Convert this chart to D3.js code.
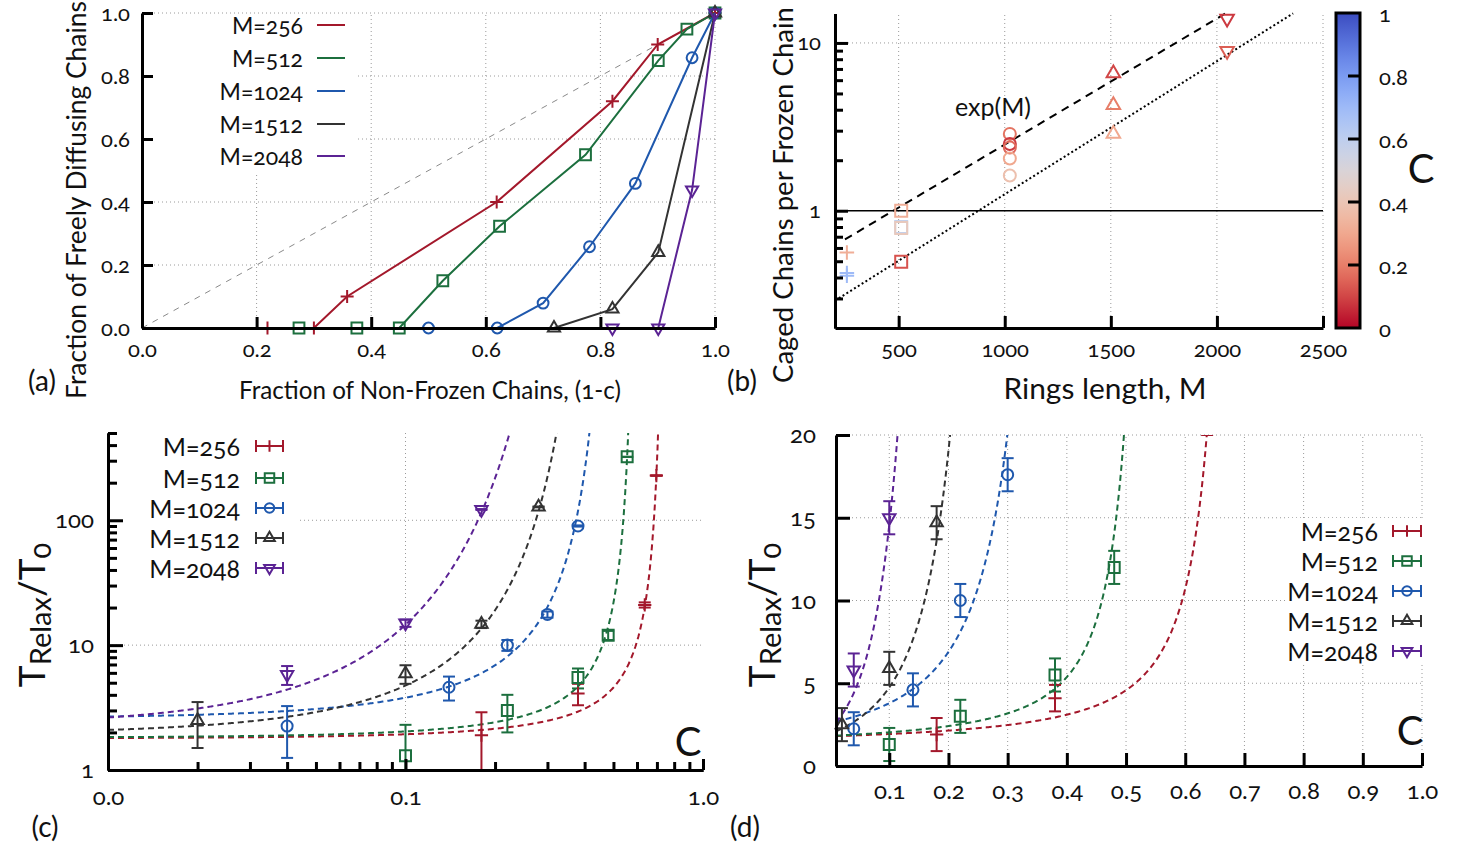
<!DOCTYPE html>
<html>
<head>
<meta charset="utf-8">
<script src="https://cdn.jsdelivr.net/npm/d3@7"></script>
<style>
  body { margin: 0; background: #fff; }
  svg text { font-family: Lato, "Open Sans", sans-serif; font-variant-numeric: oldstyle-nums; fill: #111; }
  .grid { stroke: #9a9a9a; stroke-width: 1; stroke-dasharray: 1,3; }
</style>
</head>
<body>
<svg id="fig" width="1467" height="850"></svg>
<script>
// ---- data ----
const seriesNames = ["M=256", "M=512", "M=1024", "M=1512", "M=2048"];
const seriesColors = ["#a3182b", "#1c6f3e", "#1f58ad", "#333333", "#5b2394"];

// (a) fraction of non-frozen chains (1-c) vs fraction of freely diffusing chains
const aNonFrozen = [
  [0.219, 0.300, 0.358, 0.619, 0.821, 0.900, 1.0],
  [0.274, 0.375, 0.449, 0.525, 0.624, 0.774, 0.901, 0.951, 1.0],
  [0.500, 0.620, 0.700, 0.781, 0.861, 0.960, 1.0],
  [0.719, 0.821, 0.901, 1.0],
  [0.821, 0.901, 0.960, 1.0]
];
const aFree = [
  [0, 0, 0.10, 0.40, 0.72, 0.90, 1.0],
  [0, 0, 0, 0.15, 0.323, 0.55, 0.849, 0.949, 1.0],
  [0, 0, 0.079, 0.258, 0.459, 0.858, 1.0],
  [0, 0.06, 0.24, 1.0],
  [0, 0, 0.438, 1.0]
];
const aTicks = [0, 0.2, 0.4, 0.6, 0.8, 1.0];

// (b) caged chains per frozen chain vs ring length, colour = c
const bRing  = [256, 256, 256, 512, 512, 512, 512, 1024, 1024, 1024, 1024, 1024, 1512, 1512, 1512, 2048, 2048];
const bCaged = [0.563, 0.425, 0.41, 1.0, 0.80, 0.79, 0.497, 2.87, 2.5, 2.38, 2.05, 1.62, 6.6, 4.26, 2.87, 13.95, 8.96];
const bConc  = [0.32, 0.7, 0.7, 0.32, 0.58, 0.42, 0.12, 0.18, 0.08, 0.16, 0.3, 0.38, 0.1, 0.2, 0.3, 0.08, 0.14];
const bRingValues = [256, 512, 1024, 1512, 2048];
const bXTicks = [500, 1000, 1500, 2000, 2500];
// exponential guide lines: y = pref * 10^(slope*M)
const bGuidePref  = [0.44, 0.202];
const bGuideSlope = [7.51e-4, 7.93e-4];
const bGuideStart = [247, 200];
const bGuideDash  = ["8,6", "2,2.5"];
const cbarTicks = [0, 0.2, 0.4, 0.6, 0.8, 1];

// (c),(d) relaxation time vs c
const tauC = [
  [0.18, 0.38, 0.637, 0.697],
  [0.10, 0.22, 0.38, 0.48, 0.556],
  [0.04, 0.14, 0.22, 0.30, 0.38],
  [0.02, 0.10, 0.18, 0.28],
  [0.04, 0.10, 0.18]
];
const tauVal = [
  [1.9, 4.1, 21, 228],
  [1.3, 3.0, 5.5, 12, 322],
  [2.25, 4.6, 10, 17.6, 90],
  [2.5, 5.9, 14.7, 128],
  [5.8, 15, 122]
];
const tauErr = [
  [1, 0.8, 1, 1],
  [1, 1, 1, 1, 1],
  [1, 1, 1, 1, 1],
  [1, 1, 1, 1],
  [1, 1, 1]
];
// fits: T = A * exp(B / (cs - c))
const fitA  = [1.08, 1.0, 0.47, 0.032, 7.6e-5];
const fitB  = [0.39, 0.37, 0.94, 2.3, 6.69];
const fitCs = [0.77, 0.62, 0.55, 0.56, 0.65];
const dXTicks = [0.1, 0.2, 0.3, 0.4, 0.5, 0.6, 0.7, 0.8, 0.9, 1.0];
const dYTicks = [0, 5, 10, 15, 20];

const svg = d3.select("#fig");
const defs = svg.append("defs");

// ---- helpers ----
function symbolPath(i, k) {
  const types = [d3.symbolPlus, d3.symbolSquare2, d3.symbolCircle, d3.symbolTriangle2, d3.symbolTriangle2];
  const sizes = [49, 127, 79, 91, 91];
  return d3.symbol().type(types[i]).size(sizes[i] * k * k)();
}
function addMarker(g, i, x, y, color, k) {
  g.append("path")
    .attr("d", symbolPath(i, k))
    .attr("transform", "translate(" + x + "," + y + ")" + (i === 4 ? " rotate(180)" : ""))
    .attr("fill", "none")
    .attr("stroke", color)
    .attr("stroke-width", 2);
}
function styleAxis(g, fs) {
  g.attr("font-family", null).attr("font-size", fs);
  g.select(".domain").attr("stroke-width", 3).attr("stroke", "#000");
  g.selectAll(".tick line").attr("stroke-width", 3).attr("stroke", "#000");
  g.selectAll(".tick text").attr("fill", "#111");
}
function fitWidth(t, w) {
  const len = t.node().getComputedTextLength();
  const fs = parseFloat(t.attr("font-size"));
  t.attr("font-size", (fs * w) / len);
}
function label(x, y, txt, fs, w, rot) {
  const t = svg.append("text")
    .attr("transform", "translate(" + x + "," + y + ")" + (rot ? " rotate(-90)" : ""))
    .attr("text-anchor", "middle")
    .attr("dominant-baseline", "central")
    .attr("font-size", fs)
    .text(txt);
  if (w) fitWidth(t, w);
  return t;
}
function clip(id, x0, y0, x1, y1) {
  defs.append("clipPath").attr("id", id)
    .append("rect").attr("x", x0).attr("y", y0).attr("width", x1 - x0).attr("height", y1 - y0);
  return "url(#" + id + ")";
}

// ================= (a) =================
const xa = d3.scaleLinear().domain([0, 1]).range([142, 715]);
const ya = d3.scaleLinear().domain([0, 1]).range([328, 13]);
const ga = svg.append("g");
aTicks.slice(1).forEach(function (v) {
  ga.append("line").attr("class", "grid")
    .attr("x1", xa(v)).attr("x2", xa(v)).attr("y1", ya(0)).attr("y2", ya(1));
  ga.append("line").attr("class", "grid")
    .attr("x1", xa(0)).attr("x2", xa(1)).attr("y1", ya(v)).attr("y2", ya(v));
});
ga.append("line")
  .attr("x1", xa(0)).attr("y1", ya(0)).attr("x2", xa(1)).attr("y2", ya(1))
  .attr("stroke", "#8a8a8a").attr("stroke-width", 1).attr("stroke-dasharray", "6,6");
ga.append("rect").attr("x", 144).attr("y", 14).attr("width", 213).attr("height", 159).attr("fill", "#fff");

const lineA = d3.line().x(function (d) { return xa(d[0]); }).y(function (d) { return ya(d[1]); });
seriesNames.forEach(function (name, i) {
  const pts = d3.zip(aNonFrozen[i], aFree[i]);
  ga.append("path").attr("d", lineA(pts)).attr("fill", "none")
    .attr("stroke", seriesColors[i]).attr("stroke-width", 2);
  pts.forEach(function (p) { addMarker(ga, i, xa(p[0]), ya(p[1]), seriesColors[i], 1.08); });
});
// legend
const aLegY = [25, 58, 91, 124, 156];
seriesNames.forEach(function (name, i) {
  ga.append("text").attr("x", 303).attr("y", aLegY[i]).attr("text-anchor", "end")
    .attr("dominant-baseline", "central").attr("font-size", 23).text(name);
  ga.append("line").attr("x1", 317).attr("x2", 345).attr("y1", aLegY[i]).attr("y2", aLegY[i])
    .attr("stroke", seriesColors[i]).attr("stroke-width", 2);
});
styleAxis(ga.append("g").attr("transform", "translate(0,328)")
  .call(d3.axisBottom(xa).tickValues(aTicks).tickFormat(d3.format(".1f")).tickSize(-11).tickPadding(13).tickSizeOuter(0)), 22);
styleAxis(ga.append("g").attr("transform", "translate(142,0)")
  .call(d3.axisLeft(ya).tickValues(aTicks).tickFormat(d3.format(".1f")).tickSize(-11).tickPadding(12).tickSizeOuter(0)), 22);
label(430, 389, "Fraction of Non-Frozen Chains, (1-c)", 22, 382);
label(76, 200, "Fraction of Freely Diffusing Chains", 24, 398, true);
label(42, 380, "(a)", 28);

// ================= (b) =================
const xb = d3.scaleLinear().domain([200, 2500]).range([835, 1323]);
const yb = d3.scaleLog().domain([0.2, 15]).range([328, 13.4]);
const cmap = d3.interpolateRgbBasis(["#b40426", "#e7745b", "#f7b89c", "#dddcdc", "#aac7fd", "#6f92f3", "#3b4cc0"]);
const gb = svg.append("g");
bXTicks.forEach(function (v) {
  gb.append("line").attr("class", "grid").attr("x1", xb(v)).attr("x2", xb(v)).attr("y1", yb(0.2)).attr("y2", yb(15));
});
gb.append("line").attr("class", "grid").attr("x1", 848).attr("x2", xb(2500)).attr("y1", yb(10)).attr("y2", yb(10));
gb.append("line").attr("stroke", "#000").attr("stroke-width", 1.5)
  .attr("x1", xb(200)).attr("x2", xb(2500)).attr("y1", yb(1)).attr("y2", yb(1));
const lineB = d3.line().x(function (d) { return xb(d[0]); }).y(function (d) { return yb(d[1]); });
bGuidePref.forEach(function (p, j) {
  const mEnd = (Math.log10(15) - Math.log10(p)) / bGuideSlope[j];
  const ends = [bGuideStart[j], mEnd].map(function (m) { return [m, p * Math.pow(10, bGuideSlope[j] * m)]; });
  gb.append("path").attr("d", lineB(ends)).attr("fill", "none").attr("stroke", "#000")
    .attr("stroke-width", 2).attr("stroke-dasharray", bGuideDash[j]);
});
bRing.forEach(function (m, k) {
  addMarker(gb, bRingValues.indexOf(m), xb(m), yb(bCaged[k]), cmap(bConc[k]), 1.2);
});
gb.append("text").attr("x", 993).attr("y", 106).attr("text-anchor", "middle")
  .attr("dominant-baseline", "central").attr("font-size", 25).text("exp(M)");
styleAxis(gb.append("g").attr("transform", "translate(0,328)")
  .call(d3.axisBottom(xb).tickValues(bXTicks).tickFormat(d3.format("d")).tickSize(-12).tickPadding(13).tickSizeOuter(0)), 22);
styleAxis(gb.append("g").attr("transform", "translate(835,0)")
  .call(d3.axisLeft(yb).tickValues([0.3, 0.4, 0.5, 0.6, 0.7, 0.8, 0.9, 2, 3, 4, 5, 6, 7, 8, 9]).tickFormat("").tickSize(-8).tickSizeOuter(0)), 22);
styleAxis(gb.append("g").attr("transform", "translate(835,0)")
  .call(d3.axisLeft(yb).tickValues([1, 10]).tickFormat(d3.format("d")).tickSize(-13).tickPadding(14).tickSizeOuter(0)), 22);
label(782, 195, "Caged Chains per Frozen Chain", 25, 376, true);
label(1105, 387, "Rings length, M", 26, 203);
label(742, 380, "(b)", 28);

// colour bar
const yCbar = d3.scaleLinear().domain([0, 1]).range([328, 13]);
const grad = defs.append("linearGradient").attr("id", "cbar")
  .attr("x1", 0).attr("x2", 0).attr("y1", 1).attr("y2", 0);
d3.range(0, 1.0001, 0.05).forEach(function (v) {
  grad.append("stop").attr("offset", v).attr("stop-color", cmap(v));
});
svg.append("rect").attr("x", 1336).attr("y", 13).attr("width", 24).attr("height", 315)
  .attr("fill", "url(#cbar)").attr("stroke", "#000").attr("stroke-width", 3);
cbarTicks.forEach(function (v) {
  if (v > 0 && v < 1) {
    svg.append("line").attr("x1", 1348).attr("x2", 1360).attr("y1", yCbar(v)).attr("y2", yCbar(v))
      .attr("stroke", "#000").attr("stroke-width", 3);
  }
  svg.append("text").attr("x", 1379).attr("y", yCbar(v)).attr("dominant-baseline", "central")
    .attr("font-size", 22).text(v === 0 || v === 1 ? String(v) : d3.format(".1f")(v));
});
label(1421, 168, "C", 40);

// ================= (c) & (d) shared =================
function tauLabel(x, y) {
  const t = svg.append("text")
    .attr("transform", "translate(" + x + "," + y + ") rotate(-90)")
    .attr("text-anchor", "middle")
    .attr("dominant-baseline", "central");
  t.append("tspan").attr("font-size", 37).text("T");
  t.append("tspan").attr("font-size", 29).attr("dy", 9).text("Relax");
  t.append("tspan").attr("font-size", 37).attr("dy", -9).text("/T");
  t.append("tspan").attr("font-size", 29).attr("dy", 9).text("0");
}
function drawTau(g, xs, ys, tMax, clipId, capW) {
  const clipUrl = clip(clipId, xs.range()[0], ys.range()[1], xs.range()[1], ys.range()[0]);
  const curves = g.append("g").attr("clip-path", clipUrl);
  const bars = g.append("g").attr("clip-path", clipUrl);
  const line = d3.line().x(function (d) { return xs(d[0]); }).y(function (d) { return ys(d[1]); });
  seriesNames.forEach(function (name, i) {
    const cEnd = fitCs[i] - fitB[i] / Math.log(tMax / fitA[i]);
    const px0 = xs(xs.domain()[0]), px1 = xs(cEnd);
    const pts = d3.range(0, 401).map(function (k) {
      const c = xs.invert(px0 + (px1 - px0) * k / 400);
      return [c, fitA[i] * Math.exp(fitB[i] / (fitCs[i] - c))];
    });
    curves.append("path").attr("d", line(pts)).attr("fill", "none")
      .attr("stroke", seriesColors[i]).attr("stroke-width", 2).attr("stroke-dasharray", "6,4");
  });
  seriesNames.forEach(function (name, i) {
    tauC[i].forEach(function (c, k) {
      const v = tauVal[i][k], e = tauErr[i][k];
      const lo = Math.max(v - e, ys.domain()[0] * 0.5), hi = v + e;
      const x = xs(c);
      bars.append("line").attr("x1", x).attr("x2", x).attr("y1", ys(lo)).attr("y2", ys(hi))
        .attr("stroke", seriesColors[i]).attr("stroke-width", 2);
      [lo, hi].forEach(function (b) {
        bars.append("line").attr("x1", x - capW).attr("x2", x + capW).attr("y1", ys(b)).attr("y2", ys(b))
          .attr("stroke", seriesColors[i]).attr("stroke-width", 2);
      });
      if (v <= ys.domain()[1]) addMarker(g, i, x, ys(v), seriesColors[i], 1.1);
    });
  });
}
function tauLegend(g, textX, x0, x1, rows) {
  seriesNames.forEach(function (name, i) {
    const y = rows[i];
    g.append("text").attr("x", textX).attr("y", y).attr("text-anchor", "end")
      .attr("dominant-baseline", "central").attr("font-size", 25).text(name);
    g.append("line").attr("x1", x0).attr("x2", x1).attr("y1", y).attr("y2", y)
      .attr("stroke", seriesColors[i]).attr("stroke-width", 2);
    [x0, x1].forEach(function (x) {
      g.append("line").attr("x1", x).attr("x2", x).attr("y1", y - 6).attr("y2", y + 6)
        .attr("stroke", seriesColors[i]).attr("stroke-width", 2);
    });
    addMarker(g, i, (x0 + x1) / 2, y, seriesColors[i], 0.95);
  });
}

// ================= (c) =================
const xc = d3.scaleLog().domain([0.01, 1]).range([108, 703]);
const yc = d3.scaleLog().domain([1, 500]).range([770, 433]);
const gc = svg.append("g");
gc.append("line").attr("class", "grid").attr("x1", xc(0.1)).attr("x2", xc(0.1)).attr("y1", yc(1)).attr("y2", yc(500));
gc.append("line").attr("class", "grid").attr("x1", xc(0.01)).attr("x2", xc(1)).attr("y1", yc(10)).attr("y2", yc(10));
gc.append("line").attr("class", "grid").attr("x1", xc(0.01)).attr("x2", xc(1)).attr("y1", yc(100)).attr("y2", yc(100));
gc.append("rect").attr("x", 112).attr("y", 434).attr("width", 186).attr("height", 155).attr("fill", "#fff");
drawTau(gc, xc, yc, 800, "clipC", 6);
tauLegend(gc, 240, 256, 283, [446, 478, 508, 538, 568]);
const cMinorX = [0.02, 0.03, 0.04, 0.05, 0.06, 0.07, 0.08, 0.09, 0.2, 0.3, 0.4, 0.5, 0.6, 0.7, 0.8, 0.9];
const cMinorY = [2, 3, 4, 5, 6, 7, 8, 9, 20, 30, 40, 50, 60, 70, 80, 90, 200, 300, 400, 500];
styleAxis(gc.append("g").attr("transform", "translate(0,770)")
  .call(d3.axisBottom(xc).tickValues(cMinorX).tickFormat("").tickSize(-8).tickSizeOuter(0)), 24);
styleAxis(gc.append("g").attr("transform", "translate(0,770)")
  .call(d3.axisBottom(xc).tickValues([0.01, 0.1, 1]).tickFormat(d3.format(".1f")).tickSize(-11).tickPadding(18).tickSizeOuter(0)), 24);
styleAxis(gc.append("g").attr("transform", "translate(108,0)")
  .call(d3.axisLeft(yc).tickValues(cMinorY).tickFormat("").tickSize(-9).tickSizeOuter(0)), 24);
styleAxis(gc.append("g").attr("transform", "translate(108,0)")
  .call(d3.axisLeft(yc).tickValues([1, 10, 100]).tickFormat(d3.format("d")).tickSize(-15).tickPadding(14).tickSizeOuter(0)), 24);
gc.append("text").attr("x", 688).attr("y", 741).attr("text-anchor", "middle")
  .attr("dominant-baseline", "central").attr("font-size", 40).text("C");
tauLabel(30, 615);
label(45, 826, "(c)", 28);

// ================= (d) =================
const xd = d3.scaleLinear().domain([0.01, 1]).range([836, 1422]);
const yd = d3.scaleLinear().domain([0, 20]).range([766, 435]);
const gd = svg.append("g");
dXTicks.forEach(function (v) {
  gd.append("line").attr("class", "grid").attr("x1", xd(v)).attr("x2", xd(v)).attr("y1", yd(0)).attr("y2", yd(20));
});
dYTicks.slice(1).forEach(function (v) {
  gd.append("line").attr("class", "grid").attr("x1", xd(0.01)).attr("x2", xd(1)).attr("y1", yd(v)).attr("y2", yd(v));
});
gd.append("rect").attr("x", 1287).attr("y", 518).attr("width", 140).attr("height", 147).attr("fill", "#fff");
drawTau(gd, xd, yd, 40, "clipD", 6);
tauLegend(gd, 1378, 1393, 1421, [531, 561, 591, 621, 651]);
styleAxis(gd.append("g").attr("transform", "translate(0,766)")
  .call(d3.axisBottom(xd).tickValues(dXTicks).tickFormat(d3.format(".1f")).tickSize(-13).tickPadding(16).tickSizeOuter(0)), 24);
styleAxis(gd.append("g").attr("transform", "translate(836,0)")
  .call(d3.axisLeft(yd).tickValues(dYTicks).tickFormat(d3.format("d")).tickSize(-14).tickPadding(20).tickSizeOuter(0)), 24);
gd.append("text").attr("x", 1410).attr("y", 730).attr("text-anchor", "middle")
  .attr("dominant-baseline", "central").attr("font-size", 40).text("C");
tauLabel(760, 615);
label(745, 826, "(d)", 28);
</script>
</body>
</html>
